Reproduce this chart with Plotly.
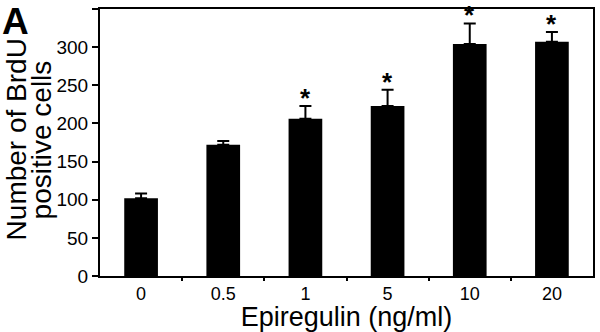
import plotly.graph_objects as go

categories = ["0", "0.5", "1", "5", "10", "20"]
values = [102, 172, 206, 223, 304, 307]
errors = [6, 5, 17, 21, 27, 13]
significant = [False, False, True, True, True, True]

FONT = "Liberation Sans"

fig = go.Figure()
fig.add_trace(go.Bar(
    x=list(range(len(categories))), y=values,
    marker=dict(color="black", line=dict(width=0)),
    width=0.41,
    error_y=dict(type="data", array=errors, arrayminus=[0]*len(errors), symmetric=False,
                 color="black", thickness=2, width=6),
))

for i, (v, e, s) in enumerate(zip(values, errors, significant)):
    if s:
        fig.add_annotation(x=i, y=v + e, text="<b>*</b>", showarrow=False, yanchor="bottom",
                           yshift=-9, font=dict(size=26, color="black", family=FONT))

fig.add_annotation(text="<b>A</b>", xref="paper", yref="paper", x=-0.2, y=1.034,
                   xanchor="left", yanchor="top", showarrow=False, borderpad=0,
                   font=dict(size=37, color="black", family=FONT), xshift=0)

# y-axis title, two lines
fig.add_annotation(text="Number of BrdU", xref="paper", yref="paper", x=-0.2, y=0.5,
                   xanchor="left", yanchor="middle", textangle=-90, showarrow=False,
                   borderpad=0, font=dict(size=28, color="black", family=FONT),
                   xshift=-1, yshift=3)
fig.add_annotation(text="positive cells", xref="paper", yref="paper", x=-0.2, y=0.5,
                   xanchor="left", yanchor="middle", textangle=-90, showarrow=False,
                   borderpad=0, font=dict(size=28, color="black", family=FONT),
                   xshift=24, yshift=3)

fig.update_layout(
    width=600, height=332,
    margin=dict(l=100, r=7, t=9, b=56),
    plot_bgcolor="white", paper_bgcolor="white",
    showlegend=False,
    font=dict(family=FONT, color="black"),
    xaxis=dict(
        showline=True, linecolor="black", linewidth=2, mirror=True,
        tickmode="array", tickvals=list(range(len(categories))), ticktext=categories,
        ticks="", tickfont=dict(size=18),
        title=dict(text="Epiregulin (ng/ml)", font=dict(size=27), standoff=3),
        range=[-0.5, 5.5], automargin=False, showgrid=False, zeroline=False,
    ),
    xaxis2=dict(
        overlaying="x", range=[-0.5, 5.5], tickmode="array",
        tickvals=[i + 0.5 for i in range(len(categories) - 1)],
        ticks="outside", ticklen=4, tickwidth=2, tickcolor="black",
        showticklabels=False, showgrid=False, zeroline=False, side="bottom",
        showline=False, anchor="y",
    ),
    yaxis=dict(
        range=[0, 350], dtick=50,
        showline=True, linecolor="black", linewidth=2, mirror=True,
        ticks="outside", ticklen=6, tickwidth=2, tickcolor="black",
        showgrid=False, zeroline=False, automargin=False,
        tickfont=dict(size=19),
    ),
)
fig.add_trace(go.Scatter(x=[0], y=[0], xaxis="x2", mode="markers",
                         marker=dict(opacity=0), hoverinfo="skip"))

fig.write_html("out.html", config={"displayModeBar": False},
               post_script="document.body.style.margin='0';document.body.style.overflow='hidden';")
